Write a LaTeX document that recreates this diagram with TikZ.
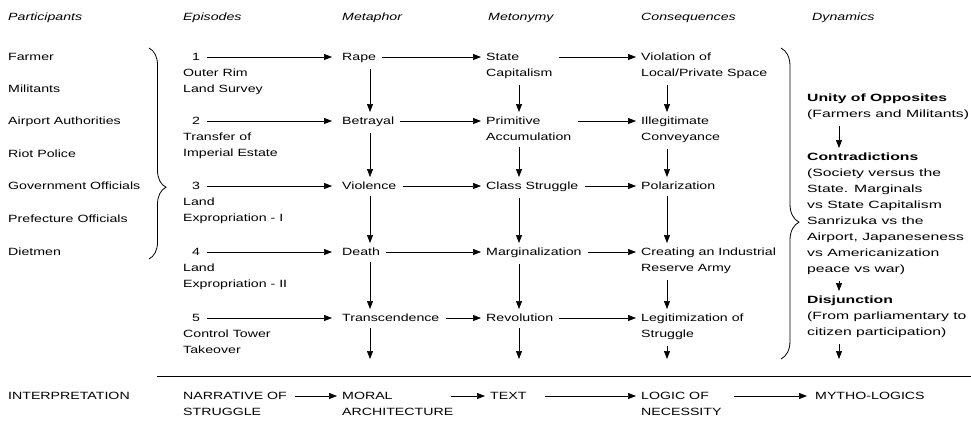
\documentclass[tikz,border=0pt]{standalone}
\usepackage{fontspec}
\setmainfont{Liberation Sans}[FakeStretch=1.35]
\newfontfamily\dynfont{Liberation Sans}[FakeStretch=1.5]
\usetikzlibrary{arrows.meta,calc,decorations.pathreplacing}
\begin{document}
\begin{tikzpicture}[x=1pt,y=-1pt,
  txt/.style={anchor=north west,inner sep=0pt,align=left,font=\fontsize{10.5}{16}\selectfont},
  head/.style={txt,font=\fontsize{10.5}{16}\selectfont\itshape},
  dyn/.style={txt,font=\fontsize{10.5}{16}\selectfont\dynfont},
  arr/.style={-{Triangle[length=8pt,width=6pt]},line width=0.7pt},
  curly/.style={decorate,decoration={brace,amplitude=#1,aspect=\braceaspect},line width=0.8pt}]
\useasboundingbox (0,0) rectangle (971,423);

% column headings
\node[head] (hpart) at (8,13)   {Participants};
\node[head] (hepi)  at (183,13) {Episodes};
\node[head] (hmph)  at (342,13) {Metaphor};
\node[head] (hmty)  at (488,13) {Metonymy};
\node[head] (hcon)  at (641,13) {Consequences};
\node[head] (hdyn)  at (812,13) {Dynamics};

% participants
\node[txt] (p1) at (8,53)  {Farmer};
\node[txt] (p2) at (8,85)  {Militants};
\node[txt] (p3) at (8,117) {Airport Authorities};
\node[txt] (p4) at (8,150) {Riot Police};
\node[txt] (p5) at (8,182) {Government Officials};
\node[txt] (p6) at (8,215) {Prefecture Officials};
\node[txt] (p7) at (8,248) {Dietmen};

% episodes
\node[txt] (n1) at (192,53)  {1};
\node[txt] (e1) at (183,69)  {Outer Rim\\Land Survey};
\node[txt] (n2) at (192,117) {2};
\node[txt] (e2) at (183,133) {Transfer of\\Imperial Estate};
\node[txt] (n3) at (192,182) {3};
\node[txt] (e3) at (183,198) {Land\\Expropriation - I};
\node[txt] (n4) at (192,248) {4};
\node[txt] (e4) at (183,264) {Land\\Expropriation - II};
\node[txt] (n5) at (192,314) {5};
\node[txt] (e5) at (183,330) {Control Tower\\Takeover};

% metaphor
\node[txt] (m1) at (342,53)  {Rape};
\node[txt] (m2) at (342,117) {Betrayal};
\node[txt] (m3) at (342,182) {Violence};
\node[txt] (m4) at (342,248) {Death};
\node[txt] (m5) at (342,314) {Transcendence};

% metonymy
\node[txt] (t1) at (486,53)  {State\\Capitalism};
\node[txt] (t2) at (486,117) {Primitive\\Accumulation};
\node[txt] (t3) at (486,182) {Class Struggle};
\node[txt] (t4) at (486,248) {Marginalization};
\node[txt] (t5) at (486,314) {Revolution};

% consequences
\node[txt] (c1) at (641,53)  {Violation of\\Local/Private Space};
\node[txt] (c2) at (641,117) {Illegitimate\\Conveyance};
\node[txt] (c3) at (641,182) {Polarization};
\node[txt] (c4) at (641,248) {Creating an Industrial\\Reserve Army};
\node[txt] (c5) at (641,314) {Legitimization of\\Struggle};

% dynamics
\node[dyn] (d1) at (807,94)  {\bfseries Unity of Opposites\\(Farmers and Militants)};
\node[dyn] (d2) at (807,153) {\bfseries Contradictions\\(Society versus the\\State. Marginals\\vs State Capitalism\\Sanrizuka vs the\\Airport, Japaneseness\\vs Americanization\\peace vs war)};
\node[dyn] (d3) at (807,296) {\bfseries Disjunction\\(From parliamentary to\\citizen participation)};

% interpretation row
\node[txt] (i0) at (8,392)   {INTERPRETATION};
\node[txt] (i1) at (183,392) {NARRATIVE OF\\STRUGGLE};
\node[txt] (i2) at (342,392) {MORAL\\ARCHITECTURE};
\node[txt] (i3) at (490,392) {TEXT};
\node[txt] (i4) at (641,392) {LOGIC OF\\NECESSITY};
\node[txt] (i5) at (815,392) {MYTHO-LOGICS};

% braces grouping participants and dynamics
\def\braceaspect{0.66}
\draw[curly=17] (149,48) -- (149,259);
\def\braceaspect{0.56}
\draw[curly=18] (781,48) -- (781,359);

% rule above the interpretation row
\coordinate (ruleL) at (157,376);
\coordinate (ruleR) at (971,376);
\draw[line width=0.9pt] (ruleL) -- (ruleR);
\coordinate (stop) at (0,359);

% horizontal arrows, row by row
\foreach \n/\m/\t/\c in {n1/m1/t1/c1,n2/m2/t2/c2,n3/m3/t3/c3,n4/m4/t4/c4,n5/m5/t5/c5}{
  \draw[arr] ($(\n.north east)+(7,4)$) -- ($(\m.north west)+(-10,4)$);
  \draw[arr] ($(\m.north east)+(6,4)$) -- ($(\t.north west)+(-5,4)$);
  \draw[arr] ($(\t.north east)+(6,4)$) -- ($(\c.north west)+(-5,4)$);
}

% vertical arrows down each column
\foreach \a/\b in {m1/m2,m2/m3,m3/m4,m4/m5}
  \draw[arr] ($(\a.south west)+(28,6)$) -- ($(\b.north west)+(28,-5)$);
\foreach \a/\b in {t1/t2,t2/t3,t3/t4,t4/t5}
  \draw[arr] ($(\a.south west)+(33,6)$) -- ($(\b.north west)+(33,-5)$);
\foreach \a/\b in {c1/c2,c2/c3,c3/c4,c4/c5}
  \draw[arr] ($(\a.south west)+(26,6)$) -- ($(\b.north west)+(26,-5)$);
\foreach \a/\b in {d1/d2,d2/d3}
  \draw[arr] ($(\a.south west)+(32,6)$) -- ($(\b.north west)+(32,-5)$);

% arrows running down towards the rule
\draw[arr] ($(m5.south west)+(28,6)$) coordinate (m5d) -- (m5d |- stop);
\draw[arr] ($(t5.south west)+(33,6)$) coordinate (t5d) -- (t5d |- stop);
\draw[arr] ($(c5.south west)+(26,6)$) coordinate (c5d) -- (c5d |- stop);
\draw[arr] ($(d3.south west)+(32,6)$) coordinate (d3d) -- (d3d |- stop);

% interpretation arrows
\draw[arr] ($(i1.north east)+(8,4)$) -- ($(i2.north west)+(-5,4)$);
\draw[arr] ($(i2.north east)+(-2,4)$) -- ($(i3.north west)+(-5,4)$);
\draw[arr] ($(i3.north east)+(18,4)$) -- ($(i4.north west)+(-5,4)$);
\draw[arr] ($(i4.north east)+(12,4)$) -- ($(i5.north west)+(-8,4)$);
\end{tikzpicture}
\end{document}
